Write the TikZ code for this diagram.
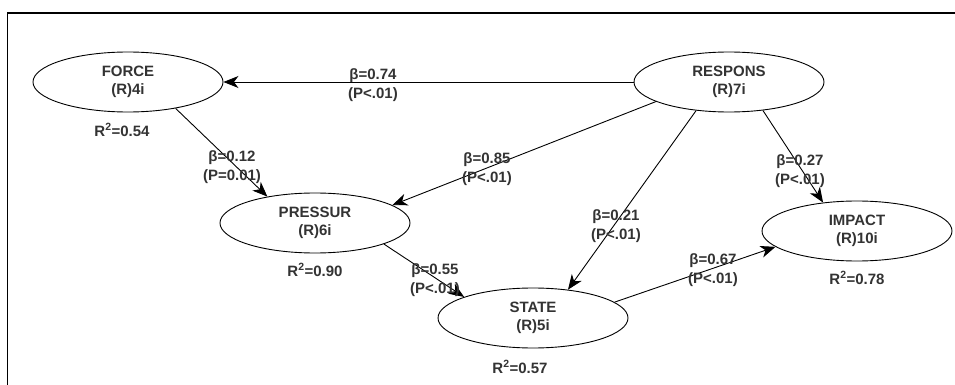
\documentclass[tikz,border=0pt]{standalone}
\usepackage{fontspec}
\setmainfont{Liberation Sans}
\usetikzlibrary{arrows.meta,shapes.geometric}
\definecolor{txt}{rgb}{0.2,0.2,0.2}
\begin{document}
\begin{tikzpicture}[x=1pt,y=-1pt,
  construct/.style={ellipse,draw,line width=0.9pt,minimum width=190pt,minimum height=60pt,inner sep=0pt,
    align=center,font=\fontsize{15}{17.5}\selectfont\bfseries,text=txt},
  coef/.style={align=center,font=\fontsize{15}{19}\selectfont\bfseries,text=txt,inner sep=0pt},
  rsq/.style={font=\fontsize{15}{17}\selectfont\bfseries,text=txt,inner sep=0pt},
  path/.style={line width=0.9pt,-{Stealth[length=15pt,width=12pt,inset=4.5pt]}}]
\useasboundingbox (0,0) rectangle (955,385);
\draw[line width=1.4pt] (7.5,385) -- (7.5,13) -- (955,13);
% constructs
\node[construct] (force) at (128,82) {FORCE\\(R)4i};
\node[construct] (respons) at (729,82) {RESPONS\\(R)7i};
\node[construct] (pressur) at (315,223) {PRESSUR\\(R)6i};
\node[construct] (state) at (533,318) {STATE\\(R)5i};
\node[construct] (impact) at (857,231) {IMPACT\\(R)10i};
% R squared
\node[rsq] (r1) at (122,130) {R\textsuperscript{2}=0.54};
\node[rsq] (r2) at (315,270) {R\textsuperscript{2}=0.90};
\node[rsq] (r3) at (520,367) {R\textsuperscript{2}=0.57};
\node[rsq] (r4) at (857,278) {R\textsuperscript{2}=0.78};
% paths
\draw[path] (respons.180) -- (force.0);
\draw[path] (force.-29) -- (pressur.151);
\draw[path] (respons.-165) -- (pressur.13);
\draw[path] (respons.-139) -- (state.39);
\draw[path] (respons.-40) -- (impact.140);
\draw[path] (pressur.-17) -- (state.163);
\draw[path] (state.11) -- (impact.-169);
% coefficients
\node[coef] (c1) at (373,85) {β=0.74\\(P<.01)};
\node[coef] (c2) at (232,167) {β=0.12\\(P=0.01)};
\node[coef] (c3) at (487,169) {β=0.85\\(P<.01)};
\node[coef] (c4) at (616,226) {β=0.21\\(P<.01)};
\node[coef] (c5) at (800,171) {β=0.27\\(P<.01)};
\node[coef] (c6) at (435,280) {β=0.55\\(P<.01)};
\node[coef] (c7) at (713,270) {β=0.67\\(P<.01)};
\end{tikzpicture}
\end{document}
